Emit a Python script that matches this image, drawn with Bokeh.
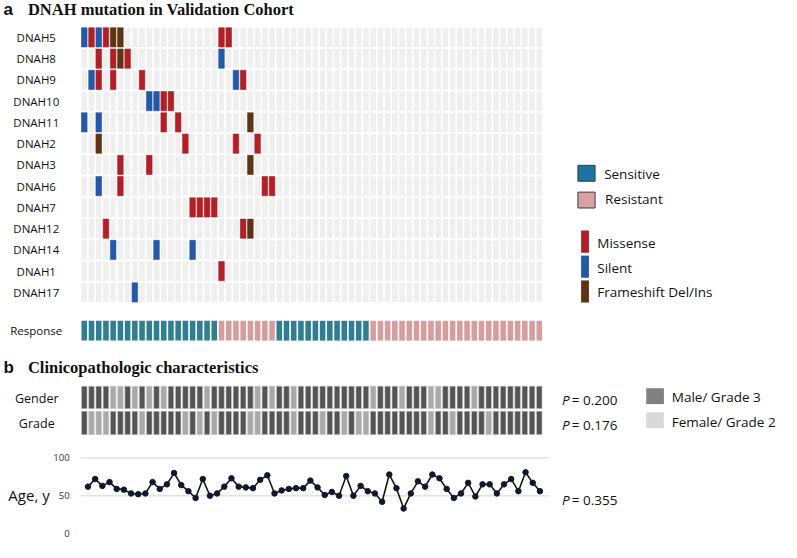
from bokeh.plotting import figure
from bokeh.models import Range1d, ColumnDataSource
from bokeh.embed import file_html
from bokeh.resources import INLINE
from bokeh.core.properties import value

# ---------------- data ----------------
genes = ["DNAH5", "DNAH8", "DNAH9", "DNAH10", "DNAH11", "DNAH2", "DNAH3",
         "DNAH6", "DNAH7", "DNAH12", "DNAH14", "DNAH1", "DNAH17"]
n_patients = 64

# mutation records: gene, patient column, type (M=Missense, S=Silent, F=Frameshift)
mut_gene = (["DNAH5"] * 8 + ["DNAH8"] * 5 + ["DNAH9"] * 6 + ["DNAH10"] * 4 +
            ["DNAH11"] * 5 + ["DNAH2"] * 4 + ["DNAH3"] * 3 + ["DNAH6"] * 4 +
            ["DNAH7"] * 4 + ["DNAH12"] * 3 + ["DNAH14"] * 3 + ["DNAH1"] * 1 +
            ["DNAH17"] * 1)
mut_col = [0, 1, 2, 3, 4, 5, 19, 20,
           2, 4, 5, 6, 19,
           1, 2, 4, 8, 21, 22,
           9, 10, 11, 12,
           0, 2, 11, 13, 23,
           2, 14, 21, 24,
           5, 9, 23,
           2, 5, 25, 26,
           15, 16, 17, 18,
           3, 22, 23,
           4, 10, 15,
           19,
           7]
mut_type = ["S", "M", "S", "M", "F", "F", "M", "M",
            "M", "M", "F", "M", "S",
            "S", "M", "M", "M", "S", "M",
            "S", "S", "M", "M",
            "S", "S", "M", "M", "F",
            "F", "M", "M", "M",
            "M", "M", "F",
            "S", "M", "M", "M",
            "M", "M", "M", "M",
            "M", "M", "F",
            "S", "S", "S",
            "M",
            "S"]

response = ["Sensitive"] * 19 + ["Resistant"] * 8 + ["Sensitive"] * 13 + ["Resistant"] * 24

# 1 = Male / Grade 3, 0 = Female / Grade 2
gender = [1, 1, 1, 1, 0, 0, 1, 0, 1, 0, 1, 0, 1, 1, 1, 1, 1, 0, 1, 1, 1, 1, 1, 1,
          0, 1, 0, 1, 1, 0, 1, 1,
          1, 1, 1, 1, 1, 1, 1, 1, 0, 1, 1, 1, 0, 1, 1, 1, 0, 0, 1, 1, 1, 1,
          0, 1, 1, 1, 1, 1, 1, 1, 1, 1]
grade = [1, 0, 0, 0, 1, 1, 1, 1, 0, 1, 1, 1, 1, 1, 0, 1, 0, 1, 0, 1, 1, 1, 1, 0,
         0, 1, 1, 1, 1, 0, 1, 1,
         1, 0, 1, 1, 0, 1, 0, 0, 1, 1, 1, 1, 1, 1, 1, 1, 0, 1, 1, 0, 1, 1,
         1, 1, 0, 1, 1, 1, 1, 1, 1, 1]

age = [62, 72, 63, 68, 59, 58, 53, 52, 53, 68, 59, 65, 80, 64, 56, 47, 72, 50,
       53, 62, 73, 62, 61, 60, 71, 77, 53, 57, 59, 60, 60, 70, 61, 51, 55, 50,
       76, 50, 63, 56, 53, 42, 78, 60, 33, 53, 69, 62, 78, 73, 59, 47, 53, 67,
       49, 65, 65, 53, 65, 72, 56, 81, 67, 56]
age_ticks = [0, 50, 100]

p_labels = ["0.200", "0.176", "0.355"]

mut_names = {"M": "Missense", "S": "Silent", "F": "Frameshift Del/Ins"}
mut_colors = {"M": "#b31f27", "S": "#2459a8", "F": "#5e3415"}
resp_colors = {"Sensitive": "#2f7f90", "Resistant": "#d69c9e"}
sex_colors = {1: "#545454", 0: "#a9a9a9"}

# ---------------- layout (design units = reference pixels) ----------------
W, H = 797, 563
col_c0, col_pitch, cell_w = 85.5, 7.37, 5.7
gene_c0, gene_pitch, gene_h = 38.3, 22.08, 20.0
age_zero_y, age_px = 553.7, 0.786
agex0, agex_pitch = 89.3, 7.32

FONT = "Open Sans"

p = figure(width=781, height=542, x_range=Range1d(0, W), y_range=Range1d(H, 0),
           output_backend="svg", toolbar_location=None, min_border=0,
           x_axis_location=None, y_axis_location=None)
p.grid.visible = False
p.outline_line_color = None
p.background_fill_color = "white"
p.border_fill_color = "white"

p.extra_x_ranges = {
    "col": Range1d((0 - col_c0) / col_pitch, (W - col_c0) / col_pitch),
    "agecol": Range1d((0 - agex0) / agex_pitch, (W - agex0) / agex_pitch),
}
p.extra_y_ranges = {
    "gene": Range1d((H - gene_c0) / gene_pitch, (0 - gene_c0) / gene_pitch),
    "age": Range1d((age_zero_y - H) / age_px, (age_zero_y - 0) / age_px),
}
cw = cell_w / col_pitch
gh = gene_h / gene_pitch

# background grid
bx, by = [], []
for gi in range(len(genes)):
    for k in range(n_patients):
        bx.append(k)
        by.append(gi)
p.rect(x=bx, y=by, width=cw, height=gh, fill_color="#efefef", line_color=None,
       x_range_name="col", y_range_name="gene")

# mutations
mx = mut_col
my = [genes.index(g) for g in mut_gene]
mc = [mut_colors[t] for t in mut_type]
p.rect(x=mx, y=my, width=cw, height=gh, fill_color=mc, line_color=mc, line_alpha=0.6,
       x_range_name="col", y_range_name="gene")

# gene labels
p.text(x=[36.5] * len(genes), y=list(range(len(genes))), text=genes,
       y_range_name="gene", text_align="center", text_baseline="middle",
       text_font=value(FONT), text_font_size="11.5px", text_color="#111111")

# response row
p.rect(x=list(range(n_patients)), y=[343] * n_patients, width=cw, height=20.6,
       fill_color=[resp_colors[r] for r in response], line_color=None,
       x_range_name="col")
p.text(x=[36.5], y=[343], text=["Response"], text_align="center", text_baseline="middle",
       text_font=value(FONT), text_font_size="11.5px", text_color="#111111")

# gender / grade rows
p.rect(x=list(range(n_patients)), y=[412.3] * n_patients, width=cw, height=23.4,
       fill_color=[sex_colors[g] for g in gender], line_color="#cfcfcf", line_width=0.6,
       x_range_name="col")
p.rect(x=list(range(n_patients)), y=[438.8] * n_patients, width=cw, height=24.4,
       fill_color=[sex_colors[g] for g in grade], line_color="#cfcfcf", line_width=0.6,
       x_range_name="col")
p.text(x=[37, 37], y=[413, 439], text=["Gender", "Grade"], text_align="center",
       text_baseline="middle", text_font=value(FONT), text_font_size="12.5px",
       text_color="#111111")

# age panel
p.segment(x0=[82, 82], x1=[560, 560], y0=age_ticks[1:], y1=age_ticks[1:],
          y_range_name="age", line_color="#e2e2e2", line_width=1.5)
p.line(x=list(range(n_patients)), y=age, x_range_name="agecol", y_range_name="age",
       line_color="#151515", line_width=1.6)
p.scatter(x=list(range(n_patients)), y=age, x_range_name="agecol", y_range_name="age",
          size=5.5, fill_color="#0e1830", line_color="#0e1830")
p.text(x=[70.5] * 3, y=age_ticks, text=[str(t) for t in age_ticks], y_range_name="age",
       text_align="right", text_baseline="middle", text_font=value(FONT),
       text_font_size="9.5px", text_color="#333333")
p.text(x=[8], y=[514], text=["Age, y"], text_align="left", text_baseline="middle",
       text_font=value(FONT), text_font_size="15px", text_color="#111111")

# titles
p.text(x=[3, 3], y=[9.5, 381], text=["a", "b"], text_align="left", text_baseline="middle",
       text_font=value("Liberation Sans"), text_font_style="bold", text_font_size="17px",
       text_color="#111111")
p.text(x=[28, 28], y=[9.5, 381],
       text=["DNAH mutation in Validation Cohort", "Clinicopathologic characteristics"],
       text_align="left", text_baseline="middle", text_font=value("Liberation Serif"),
       text_font_style="bold", text_font_size="16.5px", text_color="#111111")

# response legend
p.rect(x=[598, 598], y=[179.5, 207.3], width=17.5, height=16.5,
       fill_color=["#1f73a3", "#d9a1a3"], line_color="#3a3a3a", line_width=1)
p.text(x=[616, 617], y=[180, 206.5], text=["Sensitive", "Resistant"], text_align="left",
       text_baseline="middle", text_font=value(FONT), text_font_size="13.5px",
       text_color="#111111")

# mutation legend
leg_types = ["M", "S", "F"]
p.rect(x=[596.5] * 3, y=[250.5, 276.5, 302.3], width=8, height=23,
       fill_color=[mut_colors[t] for t in leg_types], line_color=None)
p.text(x=[609] * 3, y=[252, 278, 302.5], text=[mut_names[t] for t in leg_types],
       text_align="left", text_baseline="middle", text_font=value(FONT),
       text_font_size="13.5px", text_color="#111111")

# p-values
p.text(x=[573] * 3, y=[415, 441, 519], text=["P"] * 3, text_align="left",
       text_baseline="middle", text_font=value(FONT), text_font_style="italic",
       text_font_size="13.5px", text_color="#111111")
p.text(x=[583] * 3, y=[415, 441, 519], text=["= " + v for v in p_labels], text_align="left",
       text_baseline="middle", text_font=value(FONT), text_font_size="13.5px",
       text_color="#111111")

# gender / grade legend
p.rect(x=[668, 668], y=[411, 436], width=18, height=16.5,
       fill_color=["#808080", "#d9d9d9"], line_color=None)
p.text(x=[685, 685], y=[412, 438], text=["Male/ Grade 3", "Female/ Grade 2"],
       text_align="left", text_baseline="middle", text_font=value(FONT),
       text_font_size="13.5px", text_color="#111111")

open("out.html", "w").write(file_html(p, INLINE))
